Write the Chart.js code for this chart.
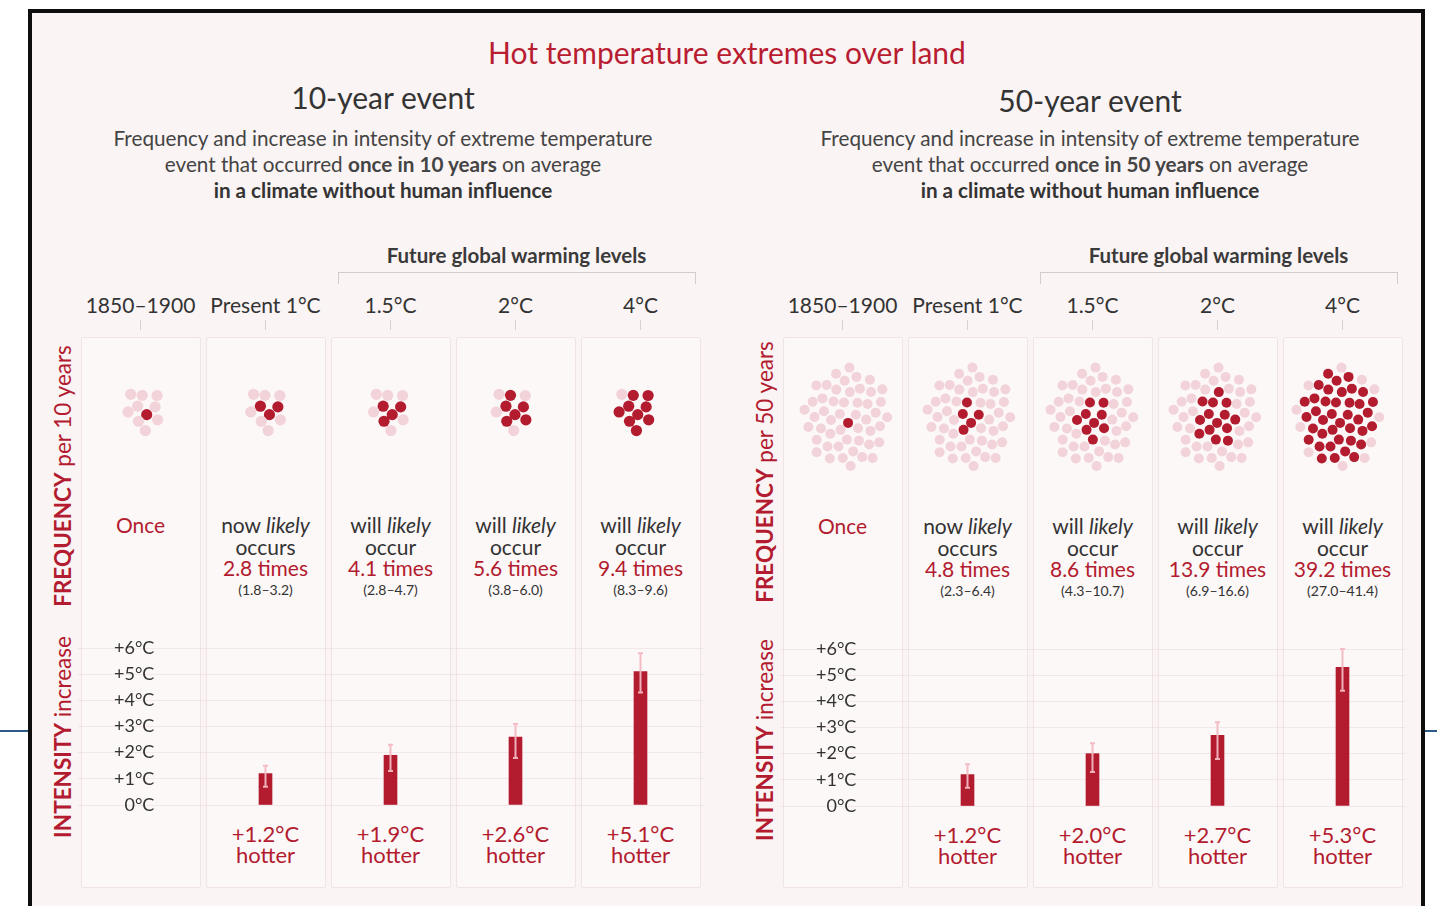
<!DOCTYPE html>
<html><head><meta charset="utf-8">
<script src="https://cdn.jsdelivr.net/npm/chart.js@4.4.1/dist/chart.umd.min.js"></script>
<style>
html,body{margin:0;padding:0;}
body{width:1437px;height:906px;background:#fff;position:relative;overflow:hidden;font-family:Lato,"Open Sans",sans-serif;color:#3a3a3a;}
.frame{position:absolute;left:28px;top:9px;width:1397px;height:930px;border:4px solid #0e0e0e;background:#faf4f4;box-sizing:border-box;}
.t{position:absolute;white-space:nowrap;transform:translate(-50%,-50%);line-height:1;}
.panel{position:absolute;background:#fcf8f8;border:1.5px solid #f0e4e5;box-sizing:border-box;border-radius:2px;}
.tick{position:absolute;width:1.5px;background:#d6d0d0;}
.bracket{position:absolute;border:1.5px solid #d2cccc;border-bottom:none;box-sizing:border-box;}
.rot{position:absolute;white-space:nowrap;transform:translate(-50%,-50%) rotate(-90deg);color:#b31b30;font-size:22.5px;line-height:1;}
canvas{position:absolute;}
</style></head>
<body>
<div class="frame"></div>
<div style="position:absolute;left:0;top:730px;width:28px;height:1.5px;background:#2e5a88"></div>
<div style="position:absolute;left:1425px;top:730px;width:12px;height:1.5px;background:#2e5a88"></div>
<div id="root"></div>
<script>
// ---------- DATA ----------
const periods = ['1850–1900', 'Present 1°C', '1.5°C', '2°C', '4°C'];
const tempTicks = [0, 1, 2, 3, 4, 5, 6];

const freq10 = [1, 2.8, 4.1, 5.6, 9.4];
const freq10Lo = [null, 1.8, 2.8, 3.8, 8.3];
const freq10Hi = [null, 3.2, 4.7, 6.0, 9.6];
const intensity10 = [null, 1.2, 1.9, 2.6, 5.1];
const intensity10Lo = [null, 0.7, 1.3, 1.8, 4.3];
const intensity10Hi = [null, 1.5, 2.3, 3.1, 5.8];

const freq50 = [1, 4.8, 8.6, 13.9, 39.2];
const freq50Lo = [null, 2.3, 4.3, 6.9, 27.0];
const freq50Hi = [null, 6.4, 10.7, 16.6, 41.4];
const intensity50 = [null, 1.2, 2.0, 2.7, 5.3];
const intensity50Lo = [null, 0.7, 1.3, 1.8, 4.4];
const intensity50Hi = [null, 1.6, 2.4, 3.2, 6.0];

// ---------- LAYOUT ----------
const RED = '#b31b2e', LIGHT = '#f2d3da';
const root = document.getElementById('root');
function txt(x, y, html, style, cls) {
  const d = document.createElement('div');
  d.className = cls || 't';
  d.style.left = x + 'px'; d.style.top = y + 'px';
  d.style.cssText += ';' + (style || '');
  d.innerHTML = html;
  root.appendChild(d);
  return d;
}
function box(cls, l, t, w, h, style) {
  const d = document.createElement('div');
  d.className = cls;
  d.style.left = l + 'px'; d.style.top = t + 'px'; d.style.width = w + 'px'; d.style.height = h + 'px';
  if (style) d.style.cssText += ';' + style;
  root.appendChild(d);
  return d;
}

txt(727, 52, 'Hot temperature extremes over land', 'font-size:30px;color:#b81d32;');

const events = [
  { name: '10-year event', years: 10, cx: 383, titleY: 97, colLeft: 78, freq: freq10, lo: freq10Lo, hi: freq10Hi,
    inten: intensity10, iLo: intensity10Lo, iHi: intensity10Hi, dotsCy: 410, dotSpacing: 6.8, dotStretch: 1.12, dotR: 5.6,
    barTop: 620, axX: 63, freqLabY: 476, intLabY: 737, freqY: 524 },
  { name: '50-year event', years: 50, cx: 1090, titleY: 100, colLeft: 780, freq: freq50, lo: freq50Lo, hi: freq50Hi,
    inten: intensity50, iLo: intensity50Lo, iHi: intensity50Hi, dotsCy: 418, dotSpacing: 6.2, dotStretch: 1.28, dotR: 5.0,
    barTop: 621, axX: 765, freqLabY: 472, intLabY: 740, freqY: 525 }
];

const errorBars = {
  id: 'errorBars',
  afterDatasetsDraw(chart, args, opts) {
    const ctx = chart.ctx, y = chart.scales.y, meta = chart.getDatasetMeta(0);
    ctx.save();
    ctx.strokeStyle = 'rgba(243,184,194,0.95)';
    ctx.lineWidth = 2;
    opts.lo.forEach((lo, i) => {
      if (lo == null) return;
      const x = meta.data[i].x, y1 = y.getPixelForValue(lo), y2 = y.getPixelForValue(opts.hi[i]);
      ctx.beginPath();
      ctx.moveTo(x, y1); ctx.lineTo(x, y2);
      ctx.moveTo(x - 2.5, y1); ctx.lineTo(x + 2.5, y1);
      ctx.moveTo(x - 2.5, y2); ctx.lineTo(x + 2.5, y2);
      ctx.stroke();
    });
    ctx.restore();
  }
};

function clusterLayout(n, spacing, stretch) {
  const ga = Math.PI * (3 - Math.sqrt(5)), pts = [];
  for (let k = 0; k < n; k++) {
    const r = spacing * Math.sqrt(k + 0.5), a = k * ga + 1.2;
    pts.push({ dx: r * Math.cos(a), dy: r * Math.sin(a) * stretch });
  }
  return pts;
}

events.forEach(ev => {
  const pitch = 125;
  const colC = i => ev.colLeft + pitch * (i + 0.5);
  // headings
  txt(ev.cx, ev.titleY, ev.name, 'font-size:30px;color:#333;');
  txt(ev.cx, 138, 'Frequency and increase in intensity of extreme temperature', 'font-size:20.7px;color:#444;');
  txt(ev.cx, 164, 'event that occurred <b>once in ' + ev.years + ' years</b> on average', 'font-size:20.7px;color:#444;');
  txt(ev.cx, 190, '<b>in a climate without human influence</b>', 'font-size:20.7px;color:#333;');
  // future bracket
  const bl = colC(2) - 53, br = colC(4) + 55;
  box('bracket', bl, 272, br - bl, 12);
  txt((bl + br) / 2, 255, 'Future global warming levels', 'font-size:20.5px;font-weight:700;color:#3a3a3a;');
  // columns
  periods.forEach((p, i) => {
    const cx = colC(i);
    txt(cx, 304, p, 'font-size:21px;color:#333;');
    box('tick', cx - 0.75, 320, 1.5, 10);
    box('panel', cx - 60, 337, 120, 551);
  });
  // axis side labels
  txt(ev.axX, ev.freqLabY, '<b>FREQUENCY</b> per ' + ev.years + ' years', '', 'rot');
  txt(ev.axX, ev.intLabY, '<b>INTENSITY</b> increase', '', 'rot');
  // frequency texts
  ev.freq.forEach((f, i) => {
    const cx = colC(i);
    if (i === 0) {
      txt(cx, ev.freqY, 'Once', 'font-size:21px;color:' + RED + ';');
      return;
    }
    txt(cx, ev.freqY, (i === 1 ? 'now' : 'will') + ' <i>likely</i>', 'font-size:21px;color:#333;');
    txt(cx, ev.freqY + 22, i === 1 ? 'occurs' : 'occur', 'font-size:21px;color:#333;');
    txt(cx, ev.freqY + 43, f.toFixed(1) + ' times', 'font-size:21px;color:' + RED + ';');
    txt(cx, ev.freqY + 66, '(' + ev.lo[i].toFixed(1) + '–' + ev.hi[i].toFixed(1) + ')', 'font-size:14px;color:#333;');
  });
  // intensity value labels
  ev.inten.forEach((v, i) => {
    if (v == null) return;
    const cx = colC(i);
    txt(cx, ev.barTop + 214, '+' + v.toFixed(1) + '°C', 'font-size:22px;color:' + RED + ';');
    txt(cx, ev.barTop + 235, 'hotter', 'font-size:22px;color:' + RED + ';');
  });

  // ---- dots chart ----
  const total = ev.years;
  const layout = clusterLayout(total, ev.dotSpacing, ev.dotStretch);
  const dark = [], light = [];
  ev.freq.forEach((f, i) => {
    const nDark = Math.round(f);
    layout.forEach((p, k) => {
      const pt = { x: i + 0.5 + p.dx / pitch, y: -p.dy };
      (k < nDark ? dark : light).push(pt);
    });
  });
  const dc = document.createElement('canvas');
  dc.width = 625; dc.height = 150;
  dc.style.left = ev.colLeft + 'px'; dc.style.top = (ev.dotsCy - 75) + 'px';
  root.appendChild(dc);
  new Chart(dc, {
    type: 'scatter',
    data: { datasets: [
      { data: light, backgroundColor: LIGHT, borderWidth: 0, pointRadius: ev.dotR },
      { data: dark, backgroundColor: RED, borderWidth: 0, pointRadius: ev.dotR }
    ] },
    options: {
      responsive: false, animation: false, devicePixelRatio: 1,
      layout: { padding: 0 },
      plugins: { legend: { display: false }, tooltip: { enabled: false } },
      scales: {
        x: { type: 'linear', min: 0, max: 5, display: false },
        y: { type: 'linear', min: -75, max: 75, display: false }
      }
    }
  });

  // ---- intensity bar chart ----
  const bc = document.createElement('canvas');
  bc.width = 625; bc.height = 210;
  bc.style.left = ev.colLeft + 'px'; bc.style.top = ev.barTop + 'px';
  root.appendChild(bc);
  new Chart(bc, {
    type: 'bar',
    data: { labels: periods, datasets: [{ data: ev.inten, backgroundColor: RED, barThickness: 13 }] },
    options: {
      responsive: false, animation: false, devicePixelRatio: 1,
      layout: { padding: { top: 28, bottom: 25, left: 0, right: 0 } },
      plugins: { legend: { display: false }, tooltip: { enabled: false },
        errorBars: { lo: ev.iLo, hi: ev.iHi } },
      scales: {
        x: { display: false },
        y: {
          min: 0, max: 6, position: 'left',
          afterBuildTicks: s => { s.ticks = tempTicks.map(v => ({ value: v })); },
          afterFit: s => { s.width = 0; s.paddingTop = 0; s.paddingBottom = 0; },
          ticks: { mirror: true, crossAlign: 'far', padding: 36, color: '#333',
            font: { family: 'Lato', size: 18 },
            callback: v => (v === 0 ? '0°C' : '+' + v + '°C') },
          grid: { color: 'rgba(215,185,190,0.24)', drawTicks: false, lineWidth: 1 },
          border: { display: false }
        }
      }
    },
    plugins: [errorBars]
  });
});
</script>
</body></html>
